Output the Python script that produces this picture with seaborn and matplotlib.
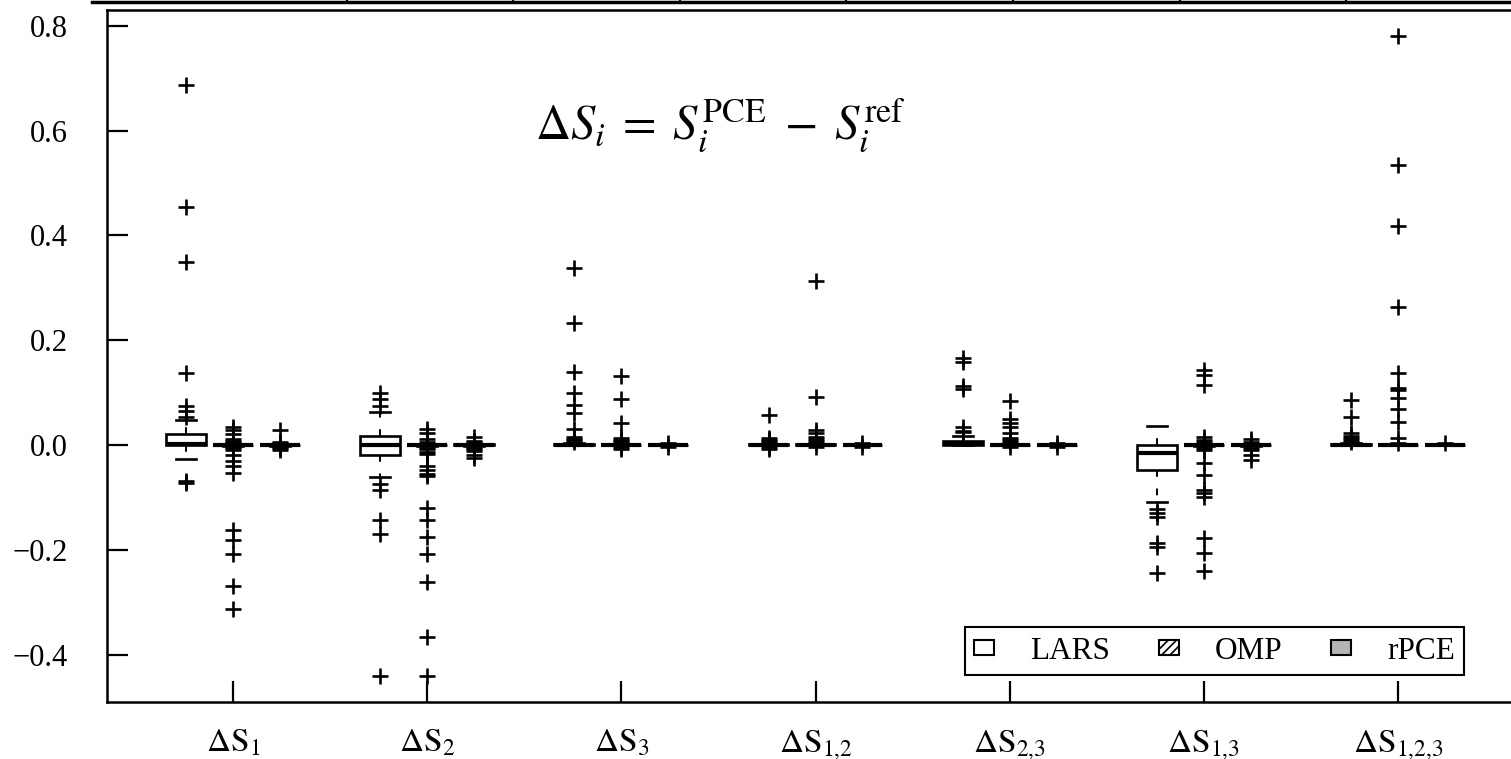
import numpy as np
import pandas as pd
import matplotlib
matplotlib.use("Agg")
import matplotlib.pyplot as plt
from matplotlib.patches import Patch
import seaborn as sns

# Sobol-index error categories and surrogate methods
index_labels = [r"$\Delta\mathrm{S}_{1}$", r"$\Delta\mathrm{S}_{2}$", r"$\Delta\mathrm{S}_{3}$",
                r"$\Delta\mathrm{S}_{1{,}2}$", r"$\Delta\mathrm{S}_{2{,}3}$", r"$\Delta\mathrm{S}_{1{,}3}$",
                r"$\Delta\mathrm{S}_{1{,}2{,}3}$"]
methods = ["LARS", "OMP", "rPCE"]

# Box summaries per index: lower whisker end, Q1, median, Q3, upper whisker end
lars_box = [
    (-0.027, -0.001, 0.001, 0.020, 0.048),
    (-0.062, -0.019, -0.001, 0.017, 0.062),
    (-0.001, 0.000, 0.0005, 0.002, 0.004),
    (-0.0005, -0.0005, 0.0, 0.001, 0.002),
    (0.000, 0.000, 0.001, 0.008, 0.018),
    (-0.108, -0.048, -0.016, 0.000, 0.036),
    (0.000, 0.000, 0.0005, 0.002, 0.004),
]
omp_box = [
    (-0.0015, -0.0008, 0.0, 0.0008, 0.0015),
    (-0.0015, -0.0008, 0.0, 0.0008, 0.0015),
    (-0.001, -0.0005, 0.0, 0.0005, 0.001),
    (-0.001, -0.0005, 0.0, 0.001, 0.0015),
    (-0.001, -0.0005, 0.0, 0.0008, 0.0012),
    (-0.0015, -0.0008, 0.0, 0.0008, 0.0015),
    (-0.001, -0.0005, 0.0, 0.0005, 0.001),
]
rpce_box = [
    (-0.0015, -0.0008, 0.0, 0.0008, 0.0015),
    (-0.002, -0.001, 0.0, 0.001, 0.002),
    (-0.001, -0.0005, 0.0, 0.0005, 0.001),
    (-0.001, -0.0005, 0.0, 0.0005, 0.001),
    (-0.001, -0.0005, 0.0, 0.0005, 0.001),
    (-0.0015, -0.0008, 0.0, 0.0008, 0.0015),
    (-0.001, -0.0005, 0.0, 0.0005, 0.001),
]

# Outlying runs per index
lars_out = [
    [-0.073, -0.068, 0.053, 0.064, 0.075, 0.137, 0.349, 0.454, 0.687],
    [-0.44, -0.17, -0.143, -0.085, -0.075, 0.075, 0.088, 0.099],
    [0.006, 0.009, 0.012, 0.015, 0.030, 0.061, 0.076, 0.099, 0.139, 0.233, 0.338],
    [-0.008, -0.004, 0.004, 0.007, 0.010, 0.014, 0.057],
    [0.024, 0.027, 0.035, 0.107, 0.112, 0.159, 0.166],
    [-0.244, -0.195, -0.187, -0.137, -0.130, -0.123],
    [0.006, 0.010, 0.014, 0.018, 0.022, 0.053, 0.086],
]
omp_out = [
    [-0.313, -0.269, -0.208, -0.181, -0.162, -0.053, -0.040, -0.030, -0.020, -0.010,
     -0.006, -0.004, 0.005, 0.008, 0.012, 0.020, 0.028, 0.035],
    [-0.44, -0.366, -0.262, -0.208, -0.175, -0.143, -0.12, -0.06, -0.055, -0.047,
     -0.04, -0.017, -0.013, -0.008, -0.005, 0.006, 0.012, 0.022, 0.03],
    [-0.008, -0.004, 0.004, 0.007, 0.010, 0.014, 0.042, 0.088, 0.132],
    [-0.004, 0.004, 0.007, 0.011, 0.016, 0.022, 0.028, 0.092, 0.313],
    [-0.004, 0.005, 0.010, 0.014, 0.022, 0.035, 0.042, 0.050, 0.084],
    [-0.24, -0.206, -0.178, -0.099, -0.092, -0.086, -0.057, -0.035, -0.010, -0.005,
     0.005, 0.010, 0.015, 0.115, 0.133, 0.143],
    [0.004, 0.013, 0.044, 0.068, 0.090, 0.105, 0.109, 0.137, 0.263, 0.418, 0.534, 0.780],
]
rpce_out = [
    [-0.010, -0.006, -0.004, 0.004, 0.006, 0.029],
    [-0.025, -0.020, -0.012, -0.008, -0.005, 0.005, 0.008, 0.015],
    [-0.003, 0.003],
    [-0.003, 0.003],
    [-0.004, 0.004],
    [-0.028, -0.020, -0.010, -0.005, 0.005, 0.012],
    [0.003],
]

N_RUNS = 101


def runs_from_summary(box, outliers):
    """Replicate runs sitting on the box quartiles so the 101 runs reproduce the summary."""
    wl, q1, med, q3, wh = box
    low = sorted(v for v in outliers if v < wl)
    high = sorted(v for v in outliers if v > wh)
    n_q1 = 37 - len(low)
    n_med = 25
    n_q3 = N_RUNS - 2 - len(low) - len(high) - n_q1 - n_med
    return low + [wl] + [q1] * n_q1 + [med] * n_med + [q3] * n_q3 + [wh] + high


rows = []
for method, boxes, outs in zip(methods, [lars_box, omp_box, rpce_box],
                               [lars_out, omp_out, rpce_out]):
    for label, box, out in zip(index_labels, boxes, outs):
        for v in runs_from_summary(box, out):
            rows.append((label, method, v))
df = pd.DataFrame(rows, columns=["index", "method", "value"])

plt.rcParams["font.family"] = ["Liberation Serif", "DejaVu Serif"]
plt.rcParams["mathtext.fontset"] = "stix"
plt.rcParams["hatch.linewidth"] = 1.2

box_fill = {"LARS": "white", "OMP": "white", "rPCE": "#b4b4b4"}

fig = plt.figure(figsize=(15.11, 7.59), dpi=100)
ax = fig.add_axes([107 / 1511, 1 - 702 / 759, 1417 / 1511, 692 / 759])

sns.boxplot(data=df, x="index", y="value", hue="method", order=index_labels,
            hue_order=methods, palette=box_fill, width=0.726, gap=0.15, whis=1.5,
            linecolor="black", linewidth=1.9, fliersize=12,
            flierprops=dict(marker="+", markeredgewidth=1.9, markeredgecolor="black"),
            whiskerprops=dict(linestyle=(0, (3.5, 6)), linewidth=1.4),
            medianprops=dict(linewidth=3.0, color="black"),
            legend=False, ax=ax)

# Hatch the OMP boxes (centred on each category position)
for patch in ax.patches:
    verts = patch.get_path().vertices
    cx = verts[:, 0].mean()
    if abs(cx - round(cx)) < 0.05:
        patch.set_hatch("////")

ax.set_xlim(-0.65, 6.65)
ax.set_ylim(-0.4905, 0.830)
ax.set_yticks([-0.4, -0.2, 0.0, 0.2, 0.4, 0.6, 0.8])
ax.set_xlabel("")
ax.set_ylabel("")
for s in ax.spines.values():
    s.set_linewidth(1.8)
ax.tick_params(axis="x", direction="in", length=15, width=1.6, labelsize=24, pad=19)
ax.tick_params(axis="y", direction="in", length=15, width=1.6, labelsize=22, pad=28)

ax.text(0.302, 0.812, r"$\Delta S_i \;=\; S_i^{\mathrm{PCE}} \;-\; S_i^{\mathrm{ref}}$",
        transform=ax.transAxes, fontsize=35, ha="left", va="baseline")

handles = [Patch(facecolor="white", edgecolor="black", linewidth=1.5, label="LARS"),
           Patch(facecolor="white", edgecolor="black", linewidth=1.5, hatch="////", label="OMP"),
           Patch(facecolor="#b4b4b4", edgecolor="black", linewidth=1.5, label="rPCE")]
leg = ax.legend(handles=handles, loc="lower right", bbox_to_anchor=(0.958, 0.039),
                borderaxespad=0, ncol=3, fontsize=22.5, frameon=True, fancybox=False,
                framealpha=1, edgecolor="black", handlelength=0.65, handleheight=0.35,
                handletextpad=1.15, columnspacing=1.55, borderpad=0.3)
leg.get_frame().set_linewidth(1.5)

# Lower edge of the panel above
upper = fig.add_axes([92 / 1511, 1 - 2 / 759, 1 - 92 / 1511, 0.05])
upper.set_xlim(-0.53, 7.99)
upper.set_xticks(range(1, 8))
upper.set_xticklabels([])
upper.set_yticks([])
for name in ["left", "right", "top"]:
    upper.spines[name].set_visible(False)
upper.spines["bottom"].set_linewidth(2.5)
upper.tick_params(axis="x", direction="in", length=8, width=1.6)
upper.patch.set_visible(False)

fig.savefig("out.png", dpi=100)
